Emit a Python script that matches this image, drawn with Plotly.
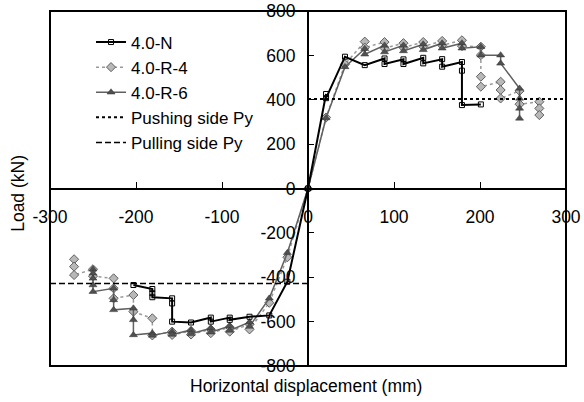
import plotly.graph_objects as go

# ---------------- data ----------------
x_N = [-203, -181, -181, -181, -158, -158, -158, -136, -113, -113, -91, -91, -68, -45, -24, 0,
       21, 21, 43, 66, 89, 89, 111, 111, 134, 134, 156, 156, 179, 179, 179, 201]
y_N = [-435, -453, -472, -490, -495, -518, -600, -604, -582, -600, -582, -592, -578, -572, -420, 0,
       426, 407, 594, 556, 586, 561, 582, 561, 589, 564, 583, 549, 570, 531, 376, 379]

x_R4 = [-272, -272, -272, -250, -250, -226, -226, -226, -203, -203, -181, -181, -158, -158,
        -136, -136, -113, -113, -91, -91, -68, -68, -45, -24, 0,
        21, 43, 66, 66, 89, 89, 111, 111, 134, 134, 156, 156, 179, 179,
        201, 201, 201, 201, 224, 224, 224, 246, 246, 269, 269, 269]
y_R4 = [-319, -352, -390, -364, -395, -405, -450, -495, -480, -555, -585, -662, -645, -660,
        -642, -658, -635, -652, -625, -645, -612, -635, -515, -310, 0,
        320, 560, 662, 635, 660, 632, 655, 635, 660, 640, 665, 645, 668, 642,
        639, 601, 504, 459, 481, 444, 406, 440, 380, 391, 361, 331]

x_R6 = [-250, -250, -250, -250, -250, -226, -226, -226, -203, -203, -203, -181, -181, -158, -158,
        -136, -136, -113, -113, -91, -91, -68, -68, -45, -24, 0,
        21, 43, 66, 66, 89, 89, 111, 111, 134, 134, 156, 156, 179, 179,
        201, 201, 224, 224, 246, 246, 246, 246]
y_R6 = [-364, -382, -405, -435, -465, -450, -502, -547, -540, -592, -660, -652, -662, -645, -658,
        -638, -655, -630, -648, -620, -640, -602, -622, -495, -290, 0,
        318, 548, 630, 605, 645, 615, 645, 620, 650, 625, 655, 632, 655, 632,
        639, 601, 601, 564, 451, 406, 361, 316]

py_push = 403
py_pull = -428

x_range = [-300, 300]
y_range = [-800, 800]
x_ticks = [-300, -200, -100, 0, 100, 200, 300]
x_ticktext = ["-300", "-200", "-100", "0", "100", "200", "300"]
y_ticks = [-800, -600, -400, -200, 0, 200, 400, 600, 800]
y_ticktext = ["-800", "-600", "-400", "-200", "0", "200", "400", "600", "800"]

FONT = "Liberation Sans, Arial, sans-serif"

fig = go.Figure()

fig.add_trace(go.Scatter(
    x=x_R4, y=y_R4, name="4.0-R-4", mode="lines+markers", legendrank=2,
    legendgroup="b",
    line=dict(color="#9a9a9a", width=1.5, dash="dot"),
    marker=dict(symbol="diamond", size=7, color="#b8b8b8",
                line=dict(color="#606060", width=1)),
))
fig.add_trace(go.Scatter(
    x=x_R6, y=y_R6, name="4.0-R-6", mode="lines+markers", legendrank=3,
    legendgroup="c",
    line=dict(color="#606060", width=1.5),
    marker=dict(symbol="triangle-up", size=7, color="#505050",
                line=dict(color="#303030", width=0.5)),
))
fig.add_trace(go.Scatter(
    x=x_N, y=y_N, name="4.0-N", mode="lines+markers", legendrank=1,
    legendgroup="a",
    line=dict(color="black", width=2),
    marker=dict(symbol="square-open", size=5, color="black",
                line=dict(color="black", width=1)),
))
fig.add_trace(go.Scatter(
    x=[0, x_range[1]], y=[py_push, py_push], name="Pushing side Py", mode="lines",
    legendrank=4, legendgroup="d",
    line=dict(color="black", width=2, dash="dot"),
))
fig.add_trace(go.Scatter(
    x=[x_range[0], 0], y=[py_pull, py_pull], name="Pulling side Py", mode="lines",
    legendrank=5, legendgroup="e",
    line=dict(color="black", width=1.5, dash="6px,3px"),
))

fig.update_layout(
    width=584, height=402,
    margin=dict(l=50, r=18, t=11, b=36, autoexpand=False),
    paper_bgcolor="white", plot_bgcolor="white",
    font=dict(family=FONT, size=17.5, color="black"),
    showlegend=True,
    legend=dict(x=0.0795, y=0.962, xanchor="left", yanchor="top",
                bgcolor="rgba(0,0,0,0)", font=dict(size=17, family=FONT),
                tracegroupgap=0, traceorder="grouped"),
    xaxis=dict(range=x_range, anchor="free", position=0.5, automargin=False,
               showline=True, linecolor="black", linewidth=2,
               ticks="inside", ticklen=6, tickwidth=1, tickcolor="black",
               tickvals=x_ticks, ticktext=x_ticktext,
               ticklabelstandoff=12,
               showgrid=False, zeroline=False),
    yaxis=dict(range=y_range, anchor="free", position=0.5, automargin=False,
               showline=True, linecolor="black", linewidth=2,
               ticks="inside", ticklen=5, tickwidth=1, tickcolor="black",
               tickvals=y_ticks, ticktext=y_ticktext,
               ticklabelstandoff=8,
               showgrid=False, zeroline=False),
    shapes=[dict(type="rect", xref="paper", yref="paper", x0=0, y0=0, x1=1, y1=1,
                 line=dict(color="black", width=2), layer="below")],
    annotations=[
        dict(text="Horizontal displacement (mm)", xref="paper", yref="paper",
             x=0.496, y=-0.056, xanchor="center", yanchor="middle",
             showarrow=False, font=dict(size=17.5, family=FONT)),
        dict(text="Load (kN)", xref="paper", yref="paper", textangle=-90,
             x=-0.062, y=0.485, xanchor="center", yanchor="middle",
             showarrow=False, font=dict(size=17.5, family=FONT)),
    ],
)

fig.write_html("out.html", config={"displayModeBar": False},
               post_script="document.body.style.margin='0';")
